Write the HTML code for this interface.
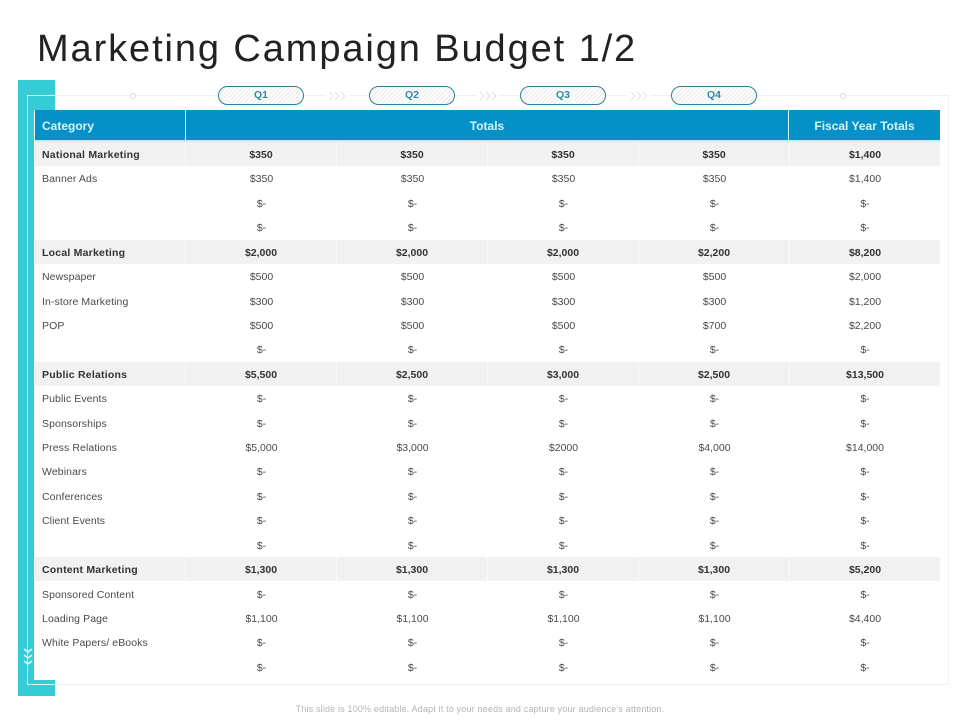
<!DOCTYPE html>
<html lang="en">
<head>
<meta charset="utf-8">
<title>Marketing Campaign Budget 1/2</title>
<style>
html,body{margin:0;padding:0;background:#fff}
#slide{position:relative;width:960px;height:720px;overflow:hidden;background:#fff;font-family:"Liberation Sans",sans-serif}
#slide div,#slide span{box-sizing:border-box}
.abs{position:absolute}
#title{left:37px;top:26px;font-size:38px;line-height:46px;color:#222;letter-spacing:1.9px;white-space:nowrap}
.teal{position:absolute;background:#35ccd6}
.fr{position:absolute;background:#edf1f2}
.fw{position:absolute;background:#e4f7f9}
.pill{position:absolute;top:86px;height:19px;width:86px;border:1px solid #2f7f93;border-radius:10px;text-align:center;font-size:10.5px;font-weight:bold;line-height:17px;color:#2b8aa5;background:repeating-linear-gradient(135deg,#fff 0,#fff 1.5px,#efefef 1.5px,#efefef 3px)}
.chev{position:absolute;top:90px;width:24px;height:12px;background:#fff;display:block}
.dot{position:absolute;top:93px;width:6px;height:6px;border:1px solid #d5dadc;border-radius:50%;background:#fff}
#thead{position:absolute;left:35px;top:110px;width:905px;height:30px;background:#0391c8;color:#d6f6fa;font-size:12px;font-weight:bold;line-height:33px}
#thead span{position:absolute;top:0;height:30px;text-align:center}
#tbody{position:absolute;left:35px;top:142px;width:905px}
.r{display:flex;height:24.43px;line-height:26px;font-size:10.5px;color:#4a4a4a}
.r span{width:151px;text-align:center;white-space:nowrap}
.r span:last-child{width:150px}
.r span:first-child{text-align:left;padding-left:7px;letter-spacing:.1px}
.b{font-weight:bold;color:#333}
.b span{background:#f1f1f1;border-right:1px solid #fbfbfb;height:24px}
.b span:first-child{letter-spacing:.22px}
.b span:last-child{border-right:0}
</style>
</head>
<body>
<div id="slide">
  <div id="title" class="abs">Marketing Campaign Budget 1/2</div>

  <div class="teal" style="left:18px;top:80px;width:37px;height:30px"></div>
  <div class="teal" style="left:18px;top:80px;width:16px;height:616px"></div>
  <div class="teal" style="left:18px;top:680px;width:37px;height:16px"></div>
  <div class="fw" style="left:27px;top:95px;width:1px;height:590px"></div>
  <div class="fw" style="left:27px;top:95px;width:28px;height:1px"></div>
  <div class="fw" style="left:27px;top:684px;width:28px;height:1px"></div>
  <div class="fr" style="left:55px;top:95px;width:893px;height:1px"></div>
  <div class="fr" style="left:948px;top:95px;width:1px;height:590px"></div>
  <div class="fr" style="left:55px;top:684px;width:894px;height:1px"></div>
  <svg class="abs" style="left:23px;top:648px" width="10" height="19" viewBox="0 0 10 19">
    <path d="M1 1l4 3 4-3M1 7l4 3 4-3M1 13l4 3 4-3" fill="none" stroke="#e4f7f9" stroke-width="1.6"/>
  </svg>

  <div class="dot" style="left:130px"></div>
  <div class="dot" style="left:840px"></div>
  <div class="pill" style="left:218px">Q1</div>
  <svg class="chev" style="left:325px" viewBox="0 0 24 12"><path d="M4 2l4 4-4 4M10 2l4 4-4 4M16 2l4 4-4 4" fill="none" stroke="#e2e6e8" stroke-width="1.2"/></svg>
  <div class="pill" style="left:369px">Q2</div>
  <svg class="chev" style="left:476px" viewBox="0 0 24 12"><path d="M4 2l4 4-4 4M10 2l4 4-4 4M16 2l4 4-4 4" fill="none" stroke="#e2e6e8" stroke-width="1.2"/></svg>
  <div class="pill" style="left:520px">Q3</div>
  <svg class="chev" style="left:627px" viewBox="0 0 24 12"><path d="M4 2l4 4-4 4M10 2l4 4-4 4M16 2l4 4-4 4" fill="none" stroke="#e2e6e8" stroke-width="1.2"/></svg>
  <div class="pill" style="left:671px">Q4</div>

  <div id="thead">
    <span style="left:7px;text-align:left">Category</span>
    <span style="left:150px;width:604px;border-left:1px solid #d6f6fa;border-right:1px solid #d6f6fa">Totals</span>
    <span style="left:754px;width:151px">Fiscal Year Totals</span>
  </div>
  <div class="abs" style="left:35px;top:140px;width:905px;height:2px;background:#c4f1f6"></div>

  <div id="tbody">
    <div class="r b"><span>National Marketing</span><span>$350</span><span>$350</span><span>$350</span><span>$350</span><span>$1,400</span></div>
    <div class="r"><span>Banner Ads</span><span>$350</span><span>$350</span><span>$350</span><span>$350</span><span>$1,400</span></div>
    <div class="r"><span></span><span>$-</span><span>$-</span><span>$-</span><span>$-</span><span>$-</span></div>
    <div class="r"><span></span><span>$-</span><span>$-</span><span>$-</span><span>$-</span><span>$-</span></div>
    <div class="r b"><span>Local Marketing</span><span>$2,000</span><span>$2,000</span><span>$2,000</span><span>$2,200</span><span>$8,200</span></div>
    <div class="r"><span>Newspaper</span><span>$500</span><span>$500</span><span>$500</span><span>$500</span><span>$2,000</span></div>
    <div class="r"><span>In-store Marketing</span><span>$300</span><span>$300</span><span>$300</span><span>$300</span><span>$1,200</span></div>
    <div class="r"><span>POP</span><span>$500</span><span>$500</span><span>$500</span><span>$700</span><span>$2,200</span></div>
    <div class="r"><span></span><span>$-</span><span>$-</span><span>$-</span><span>$-</span><span>$-</span></div>
    <div class="r b"><span>Public Relations</span><span>$5,500</span><span>$2,500</span><span>$3,000</span><span>$2,500</span><span>$13,500</span></div>
    <div class="r"><span>Public Events</span><span>$-</span><span>$-</span><span>$-</span><span>$-</span><span>$-</span></div>
    <div class="r"><span>Sponsorships</span><span>$-</span><span>$-</span><span>$-</span><span>$-</span><span>$-</span></div>
    <div class="r"><span>Press Relations</span><span>$5,000</span><span>$3,000</span><span>$2000</span><span>$4,000</span><span>$14,000</span></div>
    <div class="r"><span>Webinars</span><span>$-</span><span>$-</span><span>$-</span><span>$-</span><span>$-</span></div>
    <div class="r"><span>Conferences</span><span>$-</span><span>$-</span><span>$-</span><span>$-</span><span>$-</span></div>
    <div class="r"><span>Client Events</span><span>$-</span><span>$-</span><span>$-</span><span>$-</span><span>$-</span></div>
    <div class="r"><span></span><span>$-</span><span>$-</span><span>$-</span><span>$-</span><span>$-</span></div>
    <div class="r b"><span>Content Marketing</span><span>$1,300</span><span>$1,300</span><span>$1,300</span><span>$1,300</span><span>$5,200</span></div>
    <div class="r"><span>Sponsored Content</span><span>$-</span><span>$-</span><span>$-</span><span>$-</span><span>$-</span></div>
    <div class="r"><span>Loading Page</span><span>$1,100</span><span>$1,100</span><span>$1,100</span><span>$1,100</span><span>$4,400</span></div>
    <div class="r"><span>White Papers/ eBooks</span><span>$-</span><span>$-</span><span>$-</span><span>$-</span><span>$-</span></div>
    <div class="r"><span></span><span>$-</span><span>$-</span><span>$-</span><span>$-</span><span>$-</span></div>
  </div>

  <div class="abs" style="left:0;top:703px;width:960px;text-align:center;font-size:9px;line-height:12px;color:#b4b4b4;letter-spacing:.17px">This slide is 100% editable. Adapt it to your needs and capture your audience's attention.</div>
</div>
</body>
</html>
